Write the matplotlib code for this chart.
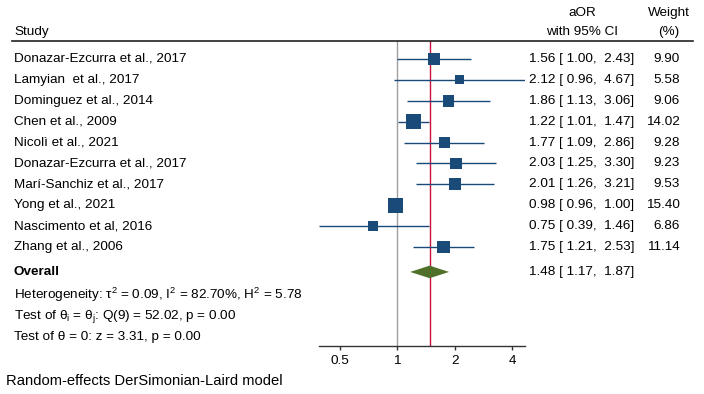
import matplotlib
matplotlib.use("Agg")
import matplotlib.pyplot as plt
from matplotlib.lines import Line2D
from matplotlib.patches import Polygon
from matplotlib.transforms import blended_transform_factory

plt.rcParams["font.family"] = ["Liberation Sans", "DejaVu Sans"]
plt.rcParams["mathtext.fontset"] = "custom"
plt.rcParams["mathtext.rm"] = "Liberation Sans"
plt.rcParams["mathtext.it"] = "Liberation Sans"

studies = [
    "Donazar-Ezcurra et al., 2017",
    "Lamyian  et al., 2017",
    "Dominguez et al., 2014",
    "Chen et al., 2009",
    "Nicolì et al., 2021",
    "Donazar-Ezcurra et al., 2017",
    "Marí-Sanchiz et al., 2017",
    "Yong et al., 2021",
    "Nascimento et al, 2016",
    "Zhang et al., 2006",
]
aor = [1.56, 2.12, 1.86, 1.22, 1.77, 2.03, 2.01, 0.98, 0.75, 1.75]
ci_low = [1.00, 0.96, 1.13, 1.01, 1.09, 1.25, 1.26, 0.96, 0.39, 1.21]
ci_high = [2.43, 4.67, 3.06, 1.47, 2.86, 3.30, 3.21, 1.00, 1.46, 2.53]
weights = [9.90, 5.58, 9.06, 14.02, 9.28, 9.23, 9.53, 15.40, 6.86, 11.14]

overall = (1.48, 1.17, 1.87)
stats_lines = [
    r"Heterogeneity: τ${}^{2}$ = 0.09, I${}^{2}$ = 82.70%, H${}^{2}$ = 5.78",
    r"Test of θ${}_{i}$ = θ${}_{j}$: Q(9) = 52.02, p = 0.00",
    "Test of θ = 0: z = 3.31, p = 0.00",
]
xticks = [0.5, 1, 2, 4]
xtick_labels = ["0.5", "1", "2", "4"]

W, H = 704, 394
NAVY = "#1a4a78"
GREEN = "#50702a"
RED = "#c8123c"
FS = 9.7


def fx(px):
    return px / W


def fy(py):
    return 1 - py / H


fig = plt.figure(figsize=(W / 100, H / 100), dpi=100)
ax = fig.add_axes([fx(319), fy(345.7), fx(525) - fx(319), fy(41) - fy(345.7)])

n = len(studies)
rows = list(range(n))
y_overall = n + 0.19
y_stats = [n + 1.29, n + 2.30, n + 3.31]

ax.set_xscale("log")
ax.set_xlim(min(ci_low), max(ci_high))
ax.set_ylim(n + 3.72, -0.86)

ax.axvline(1, color="#a0a0a0", lw=1.0, zorder=1)
ax.axvline(overall[0], color=RED, lw=1.0, zorder=1)

ax.hlines(rows, ci_low, ci_high, color=NAVY, lw=1.0, zorder=2)
ax.scatter(aor, rows, marker="s", s=[7.7 * w for w in weights], color=NAVY, zorder=3, linewidths=0)

# overall diamond
est, lo, hi = overall
h = 0.3
ax.add_patch(Polygon([(lo, y_overall), (est, y_overall - h), (hi, y_overall), (est, y_overall + h)],
                     closed=True, color=GREEN, zorder=3, lw=0))

for side in ["top", "left", "right"]:
    ax.spines[side].set_visible(False)
ax.spines["bottom"].set_color("#333333")
ax.spines["bottom"].set_linewidth(1.0)
ax.set_yticks([])
ax.set_xticks(xticks)
ax.set_xticklabels(xtick_labels, fontsize=FS)
ax.xaxis.set_minor_locator(plt.NullLocator())
ax.tick_params(axis="x", length=3, width=1, color="#333333", pad=4)

trans = blended_transform_factory(fig.transFigure, ax.transData)
for y, name, a, l, u, w in zip(rows, studies, aor, ci_low, ci_high, weights):
    ax.text(fx(14), y, name, transform=trans, fontsize=FS, va="center", ha="left")
    ax.text(fx(529), y, f"{a:.2f} [ {l:.2f},  {u:.2f}]", transform=trans, fontsize=FS, va="center", ha="left")
    ax.text(fx(680), y, f"{w:.2f}", transform=trans, fontsize=FS, va="center", ha="right")

ax.text(fx(14), y_overall, "Overall", transform=trans, fontsize=FS, va="center", ha="left", fontweight="bold")
ax.text(fx(529), y_overall, f"{est:.2f} [ {lo:.2f},  {hi:.2f}]", transform=trans, fontsize=FS, va="center", ha="left")
for y, s in zip(y_stats, stats_lines):
    ax.text(fx(14), y, s, transform=trans, fontsize=FS, va="center", ha="left")

# header
fig.text(fx(14), fy(32), "Study", fontsize=FS, va="center", ha="left")
fig.text(fx(582), fy(13), "aOR", fontsize=FS, va="center", ha="center")
fig.text(fx(582), fy(32), "with 95% CI", fontsize=FS, va="center", ha="center")
fig.text(fx(669), fy(13), "Weight", fontsize=FS, va="center", ha="center")
fig.text(fx(669), fy(32), "(%)", fontsize=FS, va="center", ha="center")
fig.add_artist(Line2D([fx(12), fx(693)], [fy(41), fy(41)], color="#222222", lw=1.2))

fig.text(fx(6), fy(381), "Random-effects DerSimonian-Laird model", fontsize=10.6, va="center", ha="left")

fig.savefig("out.png", dpi=100)
